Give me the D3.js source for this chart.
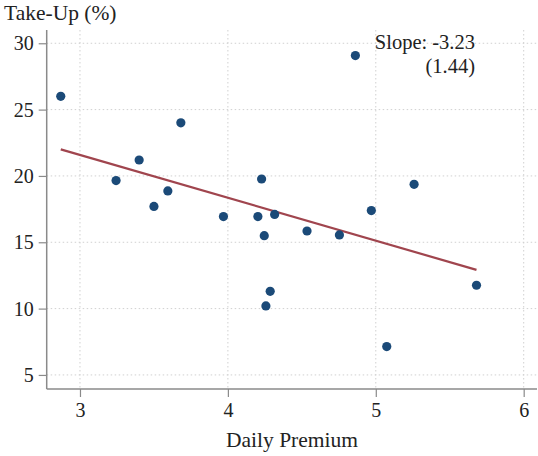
<!DOCTYPE html>
<html>
<head>
<meta charset="utf-8">
<script src="https://cdn.jsdelivr.net/npm/d3@7"></script>
<style>
  html, body { margin: 0; padding: 0; background: #fff; }
  svg { display: block; }
</style>
</head>
<body>
<svg id="chart" width="538" height="456"></svg>
<script>
// ---- data ----
const premium = [2.87, 3.244, 3.40, 3.50, 3.594, 3.682, 3.97, 4.203, 4.228, 4.246,
                 4.257, 4.286, 4.316, 4.535, 4.754, 4.862, 4.97, 5.259, 5.074, 5.681];
const takeUp  = [26.0, 19.65, 21.2, 17.7, 18.87, 24.0, 16.94, 16.94, 19.77, 15.5,
                 10.2, 11.3, 17.1, 15.85, 15.55, 29.07, 17.39, 19.37, 7.14, 11.76];
const fitSlope = -3.23;
const fitIntercept = 31.27;
const slopeLabel = "Slope: -3.23";
const seLabel = "(1.44)";
const xTicks = [3, 4, 5, 6];
const yTicks = [5, 10, 15, 20, 25, 30];
const xTitle = "Daily Premium";
const yTitle = "Take-Up (%)";

(function () {
const FONT = "'Liberation Serif', 'DejaVu Serif', serif";

// ---- layout ----
const svg = d3.select("#chart");
const mLeft = 46.7, mRight = 537, mTop = 30, mBottom = 389;
const x = d3.scaleLinear().domain([2.775, 6.09]).range([mLeft, mRight]);
const y = d3.scaleLinear().domain([3.94, 31.0]).range([mBottom, mTop]);

// grid
const grid = svg.append("g");
grid.selectAll("line.v").data(xTicks).join("line").attr("class", "v")
  .attr("x1", d => x(d)).attr("x2", d => x(d))
  .attr("y1", mTop).attr("y2", mBottom)
  .attr("stroke", "#d0d0d0").attr("stroke-width", 1).attr("stroke-dasharray", "1.5,2.5");
grid.selectAll("line.h").data(yTicks).join("line").attr("class", "h")
  .attr("x1", mLeft).attr("x2", mRight)
  .attr("y1", d => y(d)).attr("y2", d => y(d))
  .attr("stroke", "#d0d0d0").attr("stroke-width", 1).attr("stroke-dasharray", "1.5,2.5");

// axes
const xAxis = d3.axisBottom(x).tickValues(xTicks).tickSize(8).tickPadding(6).tickFormat(d3.format("d"));
const yAxis = d3.axisLeft(y).tickValues(yTicks).tickSize(8).tickPadding(5).tickFormat(d3.format("d"));

const gx = svg.append("g").attr("transform", `translate(0,${mBottom})`).call(xAxis);
const gy = svg.append("g").attr("transform", `translate(${mLeft},0)`).call(yAxis);
[gx, gy].forEach(g => {
  g.attr("font-family", FONT).attr("font-size", 20);
  g.select(".domain").attr("stroke", "#8a8a8a").attr("stroke-width", 1.5);
  g.selectAll(".tick line").attr("stroke", "#8a8a8a").attr("stroke-width", 1.2);
  g.selectAll(".tick text").style("font-family", FONT)
    .attr("font-size", 20).attr("fill", "#222");
});
gx.select(".domain").attr("d", `M${mLeft},0H${mRight}`);
gy.select(".domain").attr("d", `M0,${mTop}V${mBottom}`);

// fit line
const xmin = d3.min(premium), xmax = d3.max(premium);
svg.append("line")
  .attr("x1", x(xmin)).attr("y1", y(fitIntercept + fitSlope * xmin))
  .attr("x2", x(xmax)).attr("y2", y(fitIntercept + fitSlope * xmax))
  .attr("stroke", "#a0454e").attr("stroke-width", 2.2);

// points
svg.append("g").selectAll("circle").data(premium.map((p, i) => [p, takeUp[i]])).join("circle")
  .attr("cx", d => x(d[0])).attr("cy", d => y(d[1])).attr("r", 4.6)
  .attr("fill", "#1b4a78");

// annotation
svg.append("text").attr("x", 475).attr("y", 49).attr("text-anchor", "end")
  .style("font-family", FONT).attr("font-size", 20.5).attr("fill", "#222").text(slopeLabel);
svg.append("text").attr("x", 475).attr("y", 73).attr("text-anchor", "end")
  .style("font-family", FONT).attr("font-size", 20.5).attr("fill", "#222").text(seLabel);

// titles
svg.append("text").attr("x", 4).attr("y", 20).style("font-family", FONT)
  .attr("font-size", 21.5).attr("fill", "#222").text(yTitle);
svg.append("text").attr("x", 292).attr("y", 447).attr("text-anchor", "middle")
  .style("font-family", FONT).attr("font-size", 21.5).attr("fill", "#222").text(xTitle);
})();
</script>
</body>
</html>
